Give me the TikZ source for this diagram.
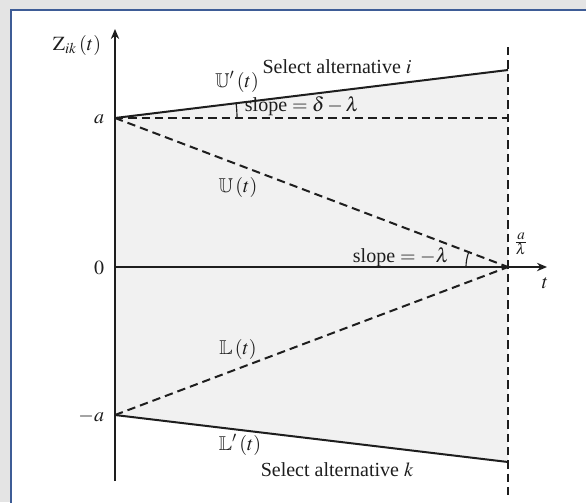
\documentclass[tikz,border=0pt]{standalone}
\usepackage{amssymb}
\usepackage{mathptmx}
\usepackage{fontspec}
\setmainfont{Liberation Serif}
\usetikzlibrary{arrows.meta}
\definecolor{FrameBlue}{RGB}{62,92,150}
\definecolor{FrameGray}{RGB}{228,228,228}
\definecolor{RegionGray}{RGB}{241,241,241}
\definecolor{InkDark}{RGB}{30,30,30}

\begin{document}
\begin{tikzpicture}[x=0.6pt,y=-0.6pt,
        axis/.style={line width=1.3pt, InkDark, -{Stealth[length=6pt,width=5pt]}},
        bound/.style={line width=1.2pt, InkDark},
        guide/.style={line width=1.2pt, InkDark, dash pattern=on 5pt off 3pt},
        anglemark/.style={line width=0.7pt, InkDark},
        lbl/.style={inner sep=1pt, text=InkDark, font=\fontsize{12}{14}\selectfont}
      ]
        \useasboundingbox (0,0) rectangle (586,502);
        % frame
        \fill[FrameGray] (0,0) rectangle (586,502);
        \filldraw[fill=white, draw=FrameBlue, line width=1.2pt] (10.5,9.5) rectangle (592,508);

        \coordinate (A)    at (115,118);
        \coordinate (O)    at (115,267);
        \coordinate (mA)   at (115,415);
        \coordinate (Atop) at (508,118);
        \coordinate (T)    at (508,267);
        \coordinate (Utop) at (508,70);
        \coordinate (Lbot) at (508,462);
        \coordinate (vtop) at (508,47);
        \coordinate (vbot) at (508,497);
        \coordinate (ytop) at (115,29);
        \coordinate (ybot) at (115,481);
        \coordinate (tend) at (547,267);

        \fill[RegionGray] (A) -- (Utop) -- (Lbot) -- (mA) -- cycle;

        \draw[guide] (vtop) -- (vbot);
        \draw[guide] (A) -- (Atop);
        \draw[guide] (A) -- (T);
        \draw[guide] (mA) -- (T);
        \draw[bound] (A) -- (Utop);
        \draw[bound] (mA) -- (Lbot);
        \draw[axis] (ybot) -- (ytop);
        \draw[axis] (O) -- (tend);

        % angle marks
        \draw[anglemark] (A) ++(122,0) arc[start angle=0, end angle=-6.96, radius=122];
        \draw[anglemark] (T) ++(-42,0) arc[start angle=180, end angle=200.8, radius=42];

        \node[lbl] (zlab) at (77,45) {$\mathrm{Z}_{ik}\,(t)$};
        \node[lbl, anchor=east] (alab)  at (106,119) {$a$};
        \node[lbl, anchor=east] (olab)  at (106,268) {$0$};
        \node[lbl, anchor=east] (malab) at (106,416) {$-a$};
        \node[lbl] (tlab)  at (545,283) {$t$};
        \node[lbl] (qlab)  at (521,244) {$\frac{a}{\lambda}$};

        \node[lbl] (seli)  at (337,67)  {Select alternative $i$};
        \node[lbl] (upr)   at (237,82)  {$\mathbb{U}'\,(t)$};
        \node[lbl] (sl1)   at (302,106) {slope $=\delta-\lambda$};
        \node[lbl] (ulab)  at (238,187) {$\mathbb{U}\,(t)$};
        \node[lbl] (sl2)   at (401,257) {slope $=-\lambda$};
        \node[lbl] (llab)  at (238,349) {$\mathbb{L}\,(t)$};
        \node[lbl] (lpr)   at (240,445) {$\mathbb{L}'\,(t)$};
        \node[lbl] (selk)  at (337,470) {Select alternative $k$};
      \end{tikzpicture}
\end{document}
